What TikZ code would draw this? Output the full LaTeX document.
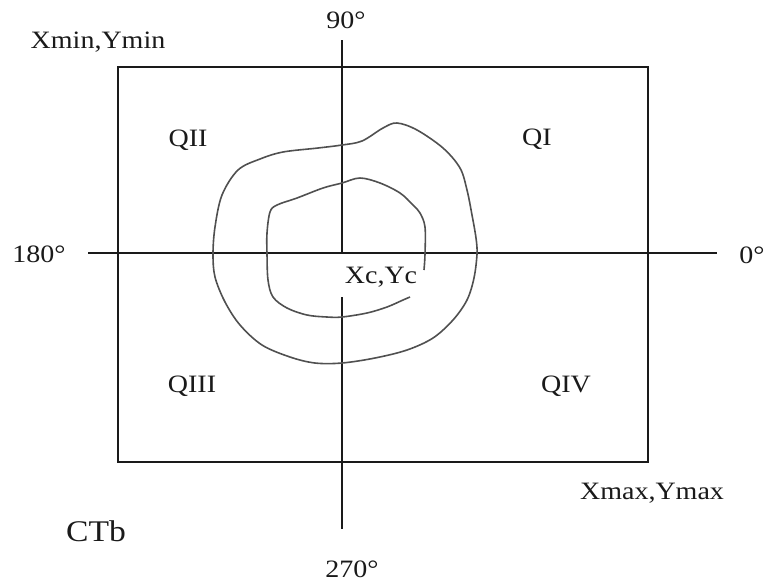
\documentclass[tikz,border=0pt]{standalone}
\usepackage{fontspec}
\setmainfont{Liberation Serif}[FakeStretch=1.12]
\usepackage{xcolor}
\definecolor{inkline}{HTML}{1A1A1A}
\definecolor{traceline}{HTML}{505050}
\usepackage{tikz}
\usetikzlibrary{positioning, calc}
\tikzset{
    lbl/.style = {inner sep=0pt, font=\fontsize{12.5}{14}\selectfont, text=inkline},
    biglbl/.style = {inner sep=0pt, font=\fontsize{15}{18}\selectfont, text=inkline},
    axisline/.style = {line width=0.9pt, color=inkline},
    frameline/.style = {line width=0.8pt, color=inkline},
    contour/.style = {line width=0.8pt, color=traceline, line join=round},
}

\begin{document}
\begin{tikzpicture}[x=0.5pt, y=-0.5pt]
        \useasboundingbox (0,0) rectangle (764,580);
        % frame
        \draw[frameline] (118,67) rectangle (648,462);
        % axis ends
        \coordinate (ctr) at (342,253);
        \coordinate (north) at (342,40);
        \coordinate (south) at (342,529);
        \coordinate (gap) at (342,297);
        \coordinate (west) at (88,253);
        \coordinate (east) at (717,253);
        % axis
        \draw[axisline] (west) -- (east);
        \draw[axisline] (north) -- (ctr);
        \draw[axisline] (gap) -- (south);
        % outer contour
        \draw[contour] plot[smooth cycle, tension=0.55] coordinates {(342,145)(362,141)(383,128)(397,123)(417,130)(443,148)(460,168)(467,190)(472,215)(476,238)(477,254)(474,278)(467,300)(453,320)(433,338)(407,350)(375,358)(342,363)(315,363)(290,357)(262,345)(240,325)(225,302)(215,277)(213,254)(215,227)(222,195)(238,170)(260,159)(283,152)(318,148)};
        % inner contour
        \draw[contour] plot[smooth, tension=0.55] coordinates {(424,270)(425,254)(425,227)(420,213)(413,205)(400,193)(380,183)(360,178)(342,183)(323,188)(297,198)(277,205)(270,212)(267,233)(267,254)(268,280)(273,297)(287,308)(307,315)(327,317)(342,317)(367,313)(387,307)(403,300)(410,297)};
        % angles
        \node[lbl] (deg90) at (346,20) {90°};
        \node[lbl] (deg180) at (39,254) {180°};
        \node[lbl] (deg0) at (752,255) {0°};
        \node[lbl] (deg270) at (352,569) {270°};
        % corners
        \node[lbl] (cmin) at (98,42) {Xmin,Ymin};
        \node[lbl] (cmax) at (652,493) {Xmax,Ymax};
        \node[lbl] (cxy) at (381,277) {Xc,Yc};
        % quadrants
        \node[lbl] (q2) at (188,140) {QII};
        \node[lbl] (q1) at (537,139) {QI};
        \node[lbl] (q3) at (192,386) {QIII};
        \node[lbl] (q4) at (566,386) {QIV};
        \node[biglbl] (ctb) at (96,531) {CTb};
      \end{tikzpicture}
\end{document}
